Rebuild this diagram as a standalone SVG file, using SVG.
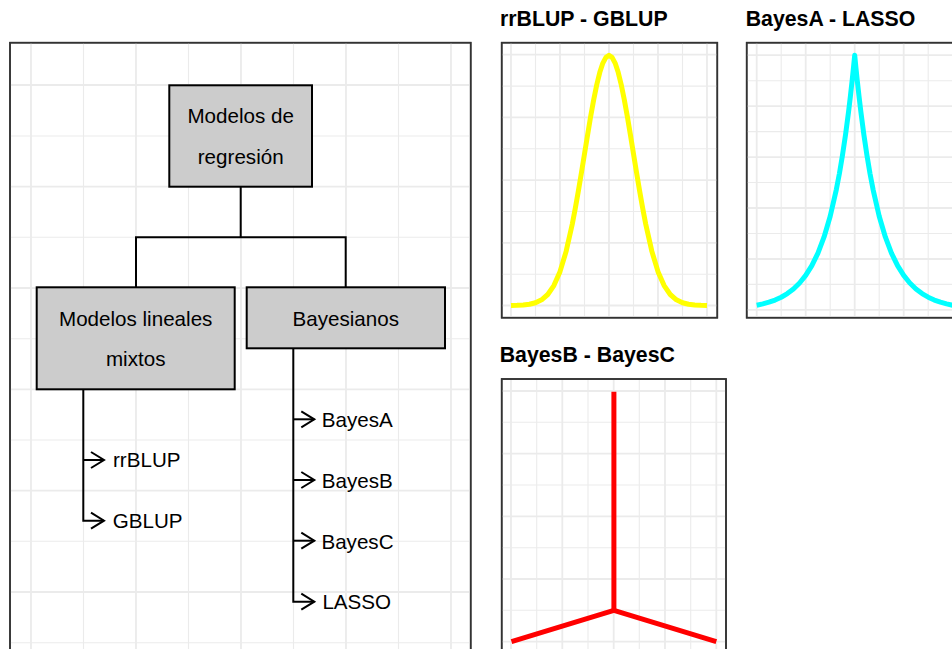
<svg xmlns="http://www.w3.org/2000/svg" width="952" height="649" viewBox="0 0 952 649">
<defs>
<style>
.gM{stroke:#EBEBEB;stroke-width:1.8;fill:none}
.gm{stroke:#EBEBEB;stroke-width:1.1;fill:none}
.panel{fill:#FFFFFF;stroke:#333333;stroke-width:1.6}
.node rect{fill:#CCCCCC;stroke:#000000;stroke-width:2}
.lbl{font-family:"Liberation Sans",Arial,sans-serif;font-size:20.6px;fill:#000000}
.ttl{font-family:"Liberation Sans",Arial,sans-serif;font-size:21.3px;font-weight:bold;fill:#000000}
.conn{stroke:#000000;stroke-width:2;fill:none}
.curve{fill:none;stroke-width:5;stroke-linejoin:round;stroke-linecap:butt}
</style>
<marker id="chev" viewBox="-16 -10 20 20" refX="0" refY="0" markerWidth="20" markerHeight="20" markerUnits="userSpaceOnUse" orient="auto" overflow="visible">
<path d="M-13,-8 L0,0 L-13,8" fill="none" stroke="#000000" stroke-width="2"/>
</marker>
</defs>
<rect x="0" y="0" width="952" height="649" fill="#FFFFFF"/>

<!-- Left panel -->
<g id="tree-panel">
<rect class="panel" x="10" y="42.7" width="460.7" height="620"/>
<g>
<path class="gM" d="M31,43.5V649M136,43.5V649M241,43.5V649M346,43.5V649M451,43.5V649"/>
<path class="gm" d="M83.5,43.5V649M188.5,43.5V649M293.5,43.5V649M398.5,43.5V649"/>
<path class="gM" d="M10.8,85H470M10.8,186.7H470M10.8,288H470M10.8,389.3H470M10.8,490.7H470M10.8,592H470"/>
<path class="gm" d="M10.8,136H470M10.8,237.3H470M10.8,338.7H470M10.8,440H470M10.8,541.3H470M10.8,642.7H470"/>
</g>
<rect x="10" y="42.7" width="460.7" height="620" fill="none" stroke="#333333" stroke-width="1.6"/>
</g>

<g id="connectors">
<path class="conn" d="M240.7,186.7V237.3M136,287.3V237.3H345.7V287.3"/>
<path class="conn" d="M83.3,389.3V520.7H104" marker-end="url(#chev)"/>
<path class="conn" d="M83.3,460H104" marker-end="url(#chev)"/>
<path class="conn" d="M293.3,348.3V601.7H314.3" marker-end="url(#chev)"/>
<path class="conn" d="M293.3,419.3H314.3" marker-end="url(#chev)"/>
<path class="conn" d="M293.3,480H314.3" marker-end="url(#chev)"/>
<path class="conn" d="M293.3,540.7H314.3" marker-end="url(#chev)"/>
</g>

<g id="node-regresion" class="node">
<rect x="169.3" y="85.3" width="142.7" height="101.4"/>
<text class="lbl" x="240.7" y="123.3" text-anchor="middle">Modelos de</text>
<text class="lbl" x="240.7" y="163.7" text-anchor="middle">regresión</text>
</g>
<g id="node-mixtos" class="node">
<rect x="36.7" y="287.3" width="198" height="102"/>
<text class="lbl" x="135.7" y="325.7" text-anchor="middle">Modelos lineales</text>
<text class="lbl" x="135.7" y="366" text-anchor="middle">mixtos</text>
</g>
<g id="node-bayesianos" class="node">
<rect x="246.7" y="287.3" width="198.3" height="61"/>
<text class="lbl" x="345.8" y="325.7" text-anchor="middle">Bayesianos</text>
</g>
<g id="leaf-rrBLUP"><text class="lbl" x="113" y="467.3">rrBLUP</text></g>
<g id="leaf-GBLUP"><text class="lbl" x="112.7" y="528.3">GBLUP</text></g>
<g id="leaf-BayesA"><text class="lbl" x="321.8" y="427.3">BayesA</text></g>
<g id="leaf-BayesB"><text class="lbl" x="321.8" y="488">BayesB</text></g>
<g id="leaf-BayesC"><text class="lbl" x="321.4" y="548.7">BayesC</text></g>
<g id="leaf-LASSO"><text class="lbl" x="322.4" y="609.3">LASSO</text></g>

<!-- Plot 1 -->
<g id="plot-rrBLUP-GBLUP">
<text class="ttl" x="500" y="26">rrBLUP - GBLUP</text>
<rect class="panel" x="501.7" y="42.7" width="215.6" height="275"/>
<path class="gM" d="M511,43.5V317M560,43.5V317M609,43.5V317M658,43.5V317M707,43.5V317"/>
<path class="gm" d="M535.5,43.5V317M584.5,43.5V317M633.5,43.5V317M682.5,43.5V317"/>
<path class="gM" d="M502.5,305.5H716.5M502.5,242.8H716.5M502.5,180.1H716.5M502.5,117.4H716.5M502.5,54.7H716.5"/>
<path class="gm" d="M502.5,274.2H716.5M502.5,211.5H716.5M502.5,148.8H716.5M502.5,86.1H716.5"/>
<rect x="501.7" y="42.7" width="215.6" height="275" fill="none" stroke="#333333" stroke-width="1.6"/>
<polyline class="curve" stroke="#FFFF00" points="511,305.42 517.12,305.28 523.25,304.95 529.37,304.23 535.5,302.72 541.62,299.8 547.75,294.51 553.87,285.6 560,271.65 566.12,251.4 572.25,224.29 575.31,208.3 578.37,190.98 581.44,172.67 584.5,153.78 587.56,135.03 590.62,116.69 593.69,99.74 596.75,84.75 599.81,72.34 602.87,63.06 605.94,57.32 609,55.36 612.06,57.32 615.13,63.06 618.19,72.34 621.25,84.75 624.31,99.74 627.38,116.69 630.44,135.03 633.5,153.78 636.56,172.67 639.63,190.98 642.69,208.3 645.75,224.29 651.88,251.4 658,271.65 664.13,285.6 670.25,294.51 676.38,299.8 682.5,302.72 688.63,304.23 694.75,304.95 700.88,305.28 707,305.42"/>
</g>

<!-- Plot 2 -->
<g id="plot-BayesA-LASSO">
<text class="ttl" x="745.7" y="26">BayesA - LASSO</text>
<rect class="panel" x="746.7" y="42.7" width="215.6" height="275"/>
<path class="gM" d="M756.7,43.5V317M805.7,43.5V317M854.7,43.5V317M903.7,43.5V317"/>
<path class="gm" d="M781.2,43.5V317M830.2,43.5V317M879.2,43.5V317M928.2,43.5V317"/>
<path class="gM" d="M747.5,309.9H962M747.5,259H962M747.5,208H962M747.5,157.1H962M747.5,106.1H962M747.5,55.2H962"/>
<path class="gm" d="M747.5,284.4H962M747.5,233.5H962M747.5,182.5H962M747.5,131.6H962M747.5,80.7H962"/>
<rect x="746.7" y="42.7" width="215.6" height="275" fill="none" stroke="#333333" stroke-width="1.6"/>
<polyline class="curve" stroke="#00FFFF" points="756.7,305.24 762.83,303.91 768.95,302.2 775.08,300.02 781.2,297.22 787.33,293.62 793.45,289 799.58,283.05 805.7,275.44 811.83,265.63 817.95,253.07 824.08,236.93 830.2,216.2 836.33,189.58 839.39,173.6 842.45,155.42 845.51,134.85 848.58,111.55 850.41,96.1 852.25,79.45 853.48,67.63 854.7,55.2 855.93,67.63 857.15,79.45 858.99,96.1 860.83,111.55 863.89,134.85 866.95,155.42 870.01,173.6 873.08,189.58 879.2,216.2 885.33,236.93 891.45,253.07 897.58,265.63 903.7,275.44 909.83,283.05 915.95,289 922.08,293.62 928.2,297.22 934.33,300.02 940.45,302.2 946.58,303.91 952.7,305.24"/>
</g>

<!-- Plot 3 -->
<g id="plot-BayesB-BayesC">
<text class="ttl" x="499.7" y="362.3">BayesB - BayesC</text>
<rect class="panel" x="501.7" y="379" width="224.3" height="290"/>
<path class="gM" d="M511,380V649M562.3,380V649M613.7,380V649M665,380V649M716.3,380V649"/>
<path class="gm" d="M536.7,380V649M588,380V649M639.3,380V649M690.7,380V649"/>
<path class="gM" d="M502.5,391H725.2M502.5,453.7H725.2M502.5,516.3H725.2M502.5,579H725.2M502.5,641.7H725.2"/>
<path class="gm" d="M502.5,422.3H725.2M502.5,485H725.2M502.5,547.7H725.2M502.5,610.3H725.2"/>
<rect x="501.7" y="379" width="224.3" height="290" fill="none" stroke="#333333" stroke-width="1.6"/>
<polyline class="curve" stroke="#FF0000" points="511.5,641.7 613.9,610.3 716.3,641.7"/>
<line class="curve" stroke="#FF0000" x1="613.9" y1="391.7" x2="613.9" y2="610.3"/>
</g>
</svg>
